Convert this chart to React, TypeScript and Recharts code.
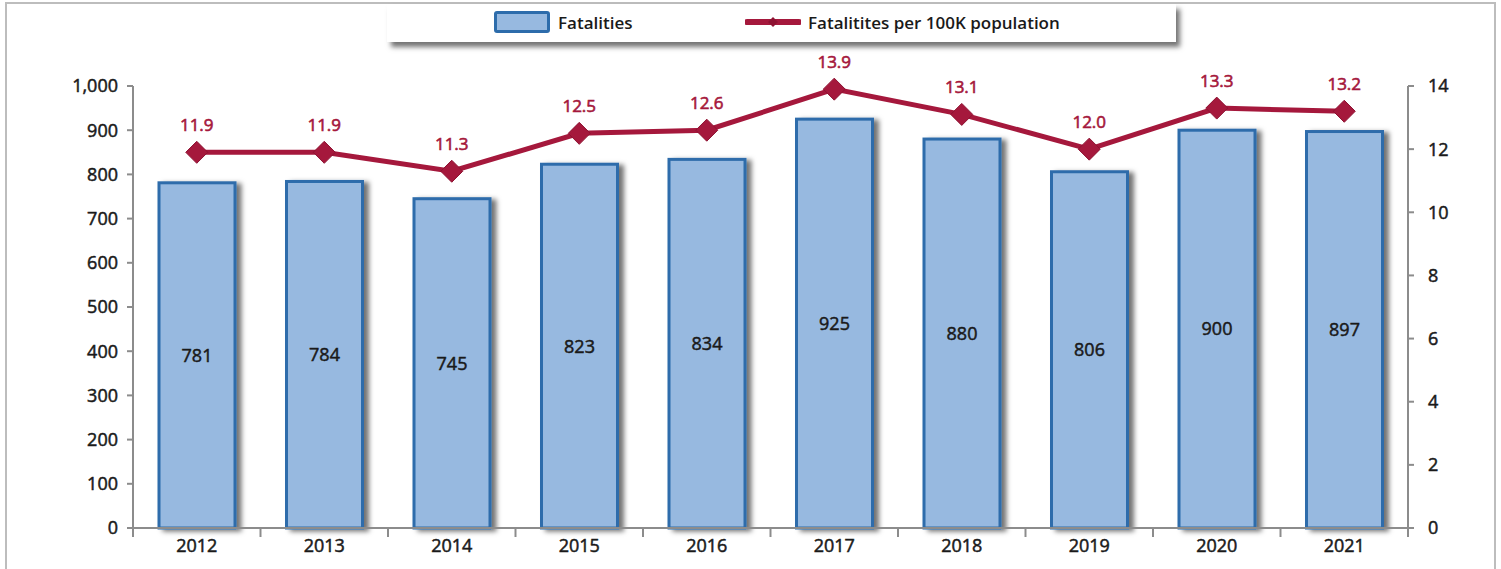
import React from 'react';
import { ComposedChart, Bar, Line, XAxis, YAxis, LabelList, Legend } from 'recharts';

const years = ['2012', '2013', '2014', '2015', '2016', '2017', '2018', '2019', '2020', '2021'];
const fatalities = [781, 784, 745, 823, 834, 925, 880, 806, 900, 897];
const ratePer100k = [11.9, 11.9, 11.3, 12.5, 12.6, 13.9, 13.1, 12.0, 13.3, 13.2];
const leftTicks = [0, 100, 200, 300, 400, 500, 600, 700, 800, 900, 1000];
const rightTicks = [0, 2, 4, 6, 8, 10, 12, 14];

const data = years.map((year, i) => ({
  year,
  fatalities: fatalities[i],
  rate: ratePer100k[i],
}));

const W = 1501;
const H = 569;
const LEFT_AXIS_W = 133;
const RIGHT_AXIS_W = 93;
const BAND = (W - LEFT_AXIS_W - RIGHT_AXIS_W) / years.length;

const FONT = '"Open Sans", "DejaVu Sans", sans-serif';
const RED = '#a5183c';
const BAR_FILL = '#97b9e0';
const BAR_STROKE = '#2d6cab';
const AXIS = '#8c8c8c';
const INK = '#1a1a1a';

// regular weight plus a hairline stroke reads like the medium weight of the original
const tickText = { fill: INK, fontSize: 18, fontFamily: FONT, stroke: INK, strokeWidth: 0.5 };

const BarShape = (props: any) => {
  const { x, y, width, height } = props;
  if (height <= 0) return null;
  return (
    <rect x={x} y={y} width={width} height={height} fill={BAR_FILL} stroke={BAR_STROKE} strokeWidth={3} filter="url(#barShadow)" />
  );
};

const Diamond = (props: any) => {
  const { cx, cy } = props;
  if (cx == null || cy == null) return null;
  const r = 11;
  return (
    <polygon
      points={`${cx},${cy - r} ${cx + r},${cy} ${cx},${cy + r} ${cx - r},${cy}`}
      fill={RED}
      stroke="#8e1232"
      strokeWidth={1}
    />
  );
};

const YearTick = (props: any) => {
  const { x, y, payload, index } = props;
  return (
    <g>
      <line x1={x - BAND / 2} y1={y} x2={x - BAND / 2} y2={y + 9} stroke={AXIS} strokeWidth={2} />
      {index === years.length - 1 && (
        <line x1={x + BAND / 2} y1={y} x2={x + BAND / 2} y2={y + 9} stroke={AXIS} strokeWidth={2} />
      )}
      <text x={x} y={y + 24} textAnchor="middle" {...tickText}>
        {payload.value}
      </text>
    </g>
  );
};

const LegendBox = () => (
  <div
    style={{
      width: 789,
      height: 38,
      background: '#fff',
      boxShadow: '4px 5px 5px rgba(0,0,0,0.55)',
      position: 'relative',
      fontFamily: FONT,
      fontSize: 17,
      fontWeight: 600,
      color: INK,
    }}
  >
    <div style={{ position: 'absolute', left: 107, top: 6, display: 'flex', alignItems: 'center', height: 24 }}>
      <div
        style={{
          width: 50,
          height: 16,
          background: BAR_FILL,
          border: `3px solid ${BAR_STROKE}`,
          borderRadius: 3,
          marginRight: 8,
        }}
      />
      <span>Fatalities</span>
    </div>
    <div style={{ position: 'absolute', left: 358, top: 6, display: 'flex', alignItems: 'center', height: 24 }}>
      <svg width={56} height={20} style={{ marginRight: 7 }}>
        <line x1={2} y1={10} x2={54} y2={10} stroke={RED} strokeWidth={6} strokeLinecap="round" />
        <polygon points="28,5 33,10 28,15 23,10" fill="#8e1232" />
      </svg>
      <span>Fatalitites per 100K population</span>
    </div>
  </div>
);

export default function App() {
  return (
    <div style={{ position: 'absolute', left: 0, top: 0, width: W, height: H, overflow: 'hidden', background: '#fff' }}>
      <div
        style={{
          position: 'absolute',
          left: 5,
          top: 2,
          width: 1487,
          height: 620,
          border: '2px solid #bdbdbd',
        }}
      />
      <ComposedChart
        width={W}
        height={H}
        data={data}
        margin={{ top: 86, right: 0, bottom: 0, left: 0 }}
        style={{ position: 'absolute', left: 0, top: 0 }}
      >
        <defs>
          <filter id="barShadow" x="-20%" y="-10%" width="150%" height="130%">
            <feDropShadow dx={5} dy={2} stdDeviation={2.5} floodColor="#000" floodOpacity={0.55} />
          </filter>
        </defs>
        <Legend
          layout="vertical"
          align="center"
          verticalAlign="middle"
          wrapperStyle={{ position: 'absolute', left: 387, top: 4, width: 789, height: 38 }}
          content={() => <LegendBox />}
        />
        <XAxis
          dataKey="year"
          height={41}
          tickSize={0}
          tickMargin={0}
          tick={<YearTick />}
          axisLine={{ stroke: AXIS, strokeWidth: 2 }}
          interval={0}
        />
        <YAxis
          yAxisId="left"
          width={LEFT_AXIS_W}
          domain={[0, 1000]}
          ticks={leftTicks}
          interval={0}
          tickSize={6}
          tickMargin={9}
          tickFormatter={(v: number) => v.toLocaleString('en-US')}
          tick={tickText}
          axisLine={{ stroke: AXIS, strokeWidth: 2 }}
          tickLine={{ stroke: AXIS, strokeWidth: 2 }}
        />
        <YAxis
          yAxisId="right"
          orientation="right"
          width={RIGHT_AXIS_W}
          domain={[0, 14]}
          ticks={rightTicks}
          interval={0}
          tickSize={6}
          tickMargin={14}
          tick={tickText}
          axisLine={{ stroke: AXIS, strokeWidth: 2 }}
          tickLine={{ stroke: AXIS, strokeWidth: 2 }}
        />
        <Bar yAxisId="left" dataKey="fatalities" barSize={76} shape={<BarShape />} isAnimationActive={false}>
          <LabelList dataKey="fatalities" position="center" {...tickText} />
        </Bar>
        <Line
          yAxisId="right"
          dataKey="rate"
          stroke={RED}
          strokeWidth={5}
          dot={<Diamond />}
          activeDot={false}
          isAnimationActive={false}
        >
          <LabelList
            dataKey="rate"
            position="top"
            offset={21}
            fill={RED}
            stroke={RED}
            strokeWidth={0.6}
            fontSize={17}
            fontFamily={FONT}
            formatter={(v: number) => v.toFixed(1)}
          />
        </Line>
      </ComposedChart>
    </div>
  );
}
